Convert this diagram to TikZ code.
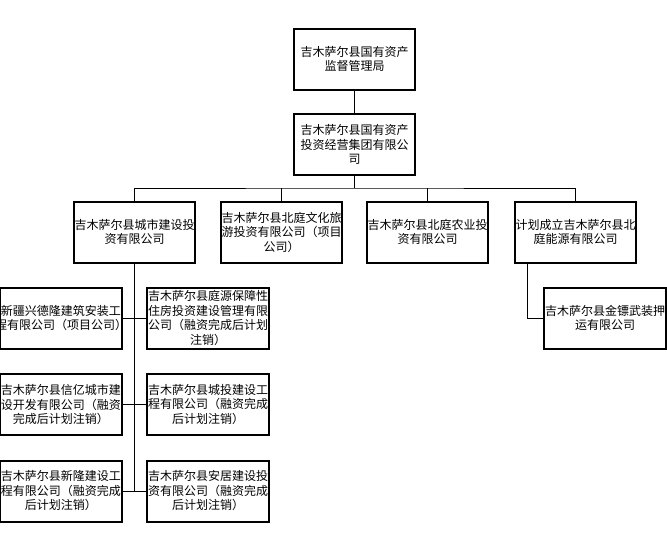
\documentclass[tikz,border=0pt]{standalone}
\usepackage{fontspec}
\setmainfont{Noto Sans CJK SC}
\usepackage{tikz}

\tikzset{
	unit/.style={draw, line width=2pt, minimum height=61pt, minimum width=121pt, text width=121pt, inner sep=0pt, align=center, font=\fontsize{12}{14.5}\selectfont},
	link/.style={line width=0.8pt}
}

\begin{document}
\begin{tikzpicture}[x=1pt,y=-1pt]
	\useasboundingbox (0,0) rectangle (667,550);
	% top of the tree
	\node[unit] at (354.5,59) (sasac) {吉木萨尔县国有资产\\监督管理局};
	\node[unit] at (354.5,144.5) (group) {吉木萨尔县国有资产\\投资经营集团有限公\\司};
	% second level
	\node[unit] at (134.5,232) (urban) {吉木萨尔县城市建设投\\资有限公司};
	\node[unit] at (281.5,232) (culture) {吉木萨尔县北庭文化旅\\游投资有限公司（项目\\公司）};
	\node[unit] at (427.5,232) (agri) {吉木萨尔县北庭农业投\\资有限公司};
	\node[unit] at (575.5,232) (energy) {计划成立吉木萨尔县北\\庭能源有限公司};
	\node[unit, minimum width=122pt] at (605,318) (jinbiao) {吉木萨尔县金镖武装押\\运有限公司};
	% under the urban company
	\node[unit, minimum width=122pt] at (61,318) (dejin) {新疆兴德隆建筑安装工\\\makebox[\linewidth]{程有限公司（项目公司）}};
	\node[unit, minimum width=122pt] at (208,318) (tingyuan) {吉木萨尔县庭源保障性\\住房投资建设管理有限\\公司（融资完成后计划\\注销）};
	\node[unit, minimum width=122pt] at (61,404.5) (xinyi) {吉木萨尔县信亿城市建\\设开发有限公司（融资\\完成后计划注销）};
	\node[unit, minimum width=122pt] at (208,404.5) (chengtou) {吉木萨尔县城投建设工\\程有限公司（融资完成\\后计划注销）};
	\node[unit, minimum width=122pt] at (61,491) (xinlong) {吉木萨尔县新隆建设工\\程有限公司（融资完成\\后计划注销）};
	\node[unit, minimum width=122pt] at (208,491) (anju) {吉木萨尔县安居建设投\\资有限公司（融资完成\\后计划注销）};

	\coordinate (bus) at (354.5,188);
	\draw[link] (sasac) to (group);
	\draw[link] (group) to (bus);
	\draw[link] (urban.north) |- (bus) -| (energy.north);
	\draw[link] (culture.north) to (culture.north |- bus);
	\draw[link] (agri.north) to (agri.north |- bus);
	\draw[link] ([xshift=13pt]energy.south west) |- (jinbiao.west);
	\draw[link] (urban.south) to (urban.south |- xinlong.east);
	\draw[link] (dejin) to (tingyuan);
	\draw[link] (xinyi) to (chengtou);
	\draw[link] (xinlong) to (anju);
\end{tikzpicture}
\end{document}
